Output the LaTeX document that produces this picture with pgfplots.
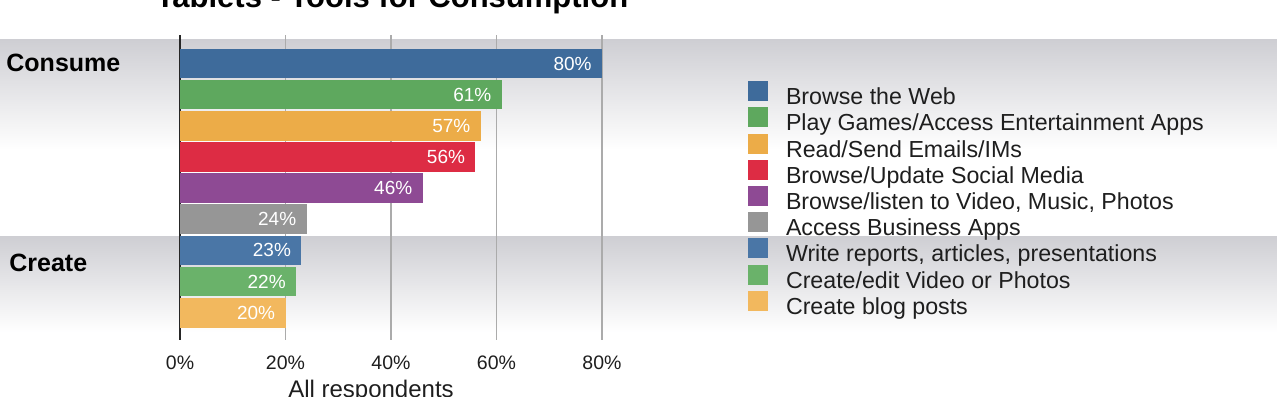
\documentclass[border=0pt]{standalone}
\usepackage{fontspec}
\setmainfont{Liberation Sans}
\usepackage{pgfplots}
\pgfplotsset{compat=1.18}
\definecolor{cBlue}{RGB}{62,107,155}
\definecolor{cBlueB}{RGB}{74,118,166}
\definecolor{cGreen}{RGB}{94,168,94}
\definecolor{cGreenB}{RGB}{106,178,106}
\definecolor{cOrange}{RGB}{236,172,72}
\definecolor{cOrangeB}{RGB}{242,184,94}
\definecolor{cRed}{RGB}{221,44,68}
\definecolor{cPurple}{RGB}{142,74,148}
\definecolor{cGray}{RGB}{150,150,150}
\definecolor{bandgray}{RGB}{206,206,211}
\definecolor{txt}{RGB}{30,30,30}
\begin{document}
\begin{tikzpicture}
\path[use as bounding box, clip] (0,0) rectangle (638.5pt,-198pt);
% background bands
\shade[top color=bandgray, bottom color=white] (0,-19.5pt) rectangle (638.5pt,-75pt);
\shade[top color=bandgray, bottom color=white] (0,-118pt) rectangle (638.5pt,-166pt);
% title (clipped at the top, as in the reference)
\node[anchor=base, inner sep=0pt, font=\fontsize{15.5}{18}\selectfont\bfseries, text=black] at (196pt,-3.9pt) {Tablets - Tools for Consumption};
\node[anchor=base west, inner sep=0pt, font=\fontsize{12.5}{15}\selectfont\bfseries, text=black] at (3pt,-35.5pt) {Consume};
\node[anchor=base west, inner sep=0pt, font=\fontsize{12.5}{15}\selectfont\bfseries, text=black] at (4.5pt,-135.5pt) {Create};
\node[anchor=base, inner sep=0pt, font=\fontsize{12}{14}\selectfont, text=txt] at (185.5pt,-198.5pt) {All respondents};
\begin{axis}[
  at={(90pt,-17.5pt)}, anchor=north west,
  scale only axis, width=211pt, height=152.5pt,
  xbar, bar shift=0pt, bar width=0.95,
  xmin=0, xmax=80, ymin=0.085, ymax=9.876, y dir=reverse,
  axis line style={draw=none},
  ytick=\empty,
  xtick={20,40,60,80}, xticklabels={20\%,40\%,60\%,80\%},
  extra x ticks={0}, extra x tick labels={0\%},
  extra x tick style={grid style={draw=black!85, line width=0.6pt}},
  major tick length=0pt,
  xmajorgrids, grid style={draw=black!33, line width=0.75pt},
  xticklabel style={font=\fontsize{9.75}{11}\selectfont, text=txt, anchor=base, yshift=-14.5pt},
  point meta=x,
  nodes near coords={\pgfmathprintnumber[assume math mode=true]{\pgfplotspointmeta}\%},
  nodes near coords style={anchor=east, text=white, font=\fontsize{9.5}{11}\selectfont, inner sep=0pt, xshift=-5pt},
  legend cell align=left,
  legend style={draw=none, fill=none, at={(1.346,0.8485)}, anchor=north west,
    inner sep=0pt, outer sep=0pt, row sep=-2.6pt,
    font=\fontsize{11.6}{13.4}\selectfont, text=txt,
    nodes={inner sep=0pt, text height=9.4pt, text depth=4pt}},
  legend image code/.code={\fill[#1, draw=none] (0pt,-1pt) rectangle (10pt,9pt); \path[draw=none, fill=none] (0pt,0pt) -- (19pt,0pt);},
]
\addplot[fill=cBlue, draw=none] coordinates {(80,1)};
\addlegendentry{Browse the Web}
\addplot[fill=cGreen, draw=none] coordinates {(61,2)};
\addlegendentry{Play Games/Access Entertainment Apps}
\addplot[fill=cOrange, draw=none] coordinates {(57,3)};
\addlegendentry{Read/Send Emails/IMs}
\addplot[fill=cRed, draw=none] coordinates {(56,4)};
\addlegendentry{Browse/Update Social Media}
\addplot[fill=cPurple, draw=none] coordinates {(46,5)};
\addlegendentry{Browse/listen to Video, Music, Photos}
\addplot[fill=cGray, draw=none] coordinates {(24,6)};
\addlegendentry{Access Business Apps}
\addplot[fill=cBlueB, draw=none] coordinates {(23,7)};
\addlegendentry{Write reports, articles, presentations}
\addplot[fill=cGreenB, draw=none] coordinates {(22,8)};
\addlegendentry{Create/edit Video or Photos}
\addplot[fill=cOrangeB, draw=none] coordinates {(20,9)};
\addlegendentry{Create blog posts}
\end{axis}
\end{tikzpicture}
\end{document}
